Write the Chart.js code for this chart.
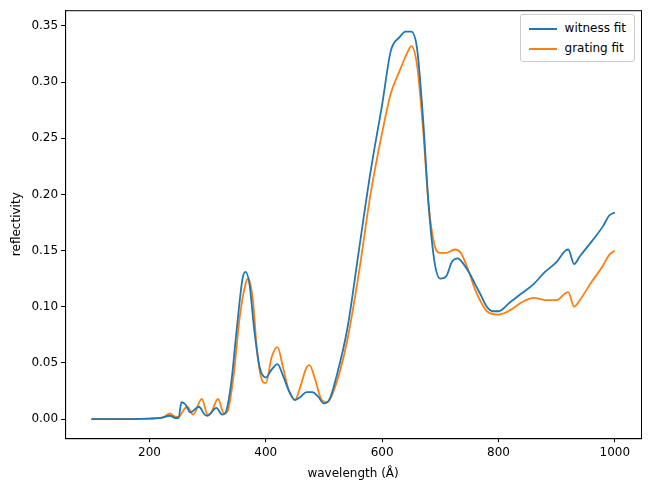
<!DOCTYPE html><html><head><meta charset="utf-8">
<script src="https://cdn.jsdelivr.net/npm/chart.js@4"></script>
<style>body{margin:0;background:#fff;font-family:"DejaVu Sans"}#w{position:relative;width:651px;height:491px}
#lg{position:absolute;right:16px;top:14px;border:1px solid #ccc;border-radius:3px;background:#fff;padding:3px 8px 3px 8px;font-size:12px;line-height:20px;color:#000}
.s{display:inline-block;width:28px;height:2px;vertical-align:middle;margin-right:8px}</style></head><body>
<div id="w"><canvas id="c" width="651" height="491"></canvas>
<div id="lg"><div><span class="s" style="background:#1f77b4"></span>witness fit</div><div><span class="s" style="background:#ff7f0e"></span>grating fit</div></div></div>
<script>
const witnessX=[100,150,200,220,235,245,250,255,262,270,285,295,300,315,325,330,340,350,360,365,372,380,390,400,410,420,430,440,450,460,470,480,490,500,510,520,540,560,580,600,615,630,640,650,660,670,680,690,700,710,720,730,740,750,760,770,780,790,800,820,840,860,880,900,915,920,930,940,960,980,990,1000];
const witnessY=[0,0,0.0005,0.001,0.003,0.001,0.001,0.015,0.013,0.006,0.011,0.004,0.003,0.010,0.004,0.005,0.03,0.08,0.125,0.131,0.12,0.08,0.045,0.037,0.044,0.049,0.038,0.025,0.017,0.02,0.024,0.024,0.02,0.014,0.018,0.035,0.08,0.15,0.22,0.28,0.328,0.34,0.345,0.345,0.33,0.27,0.19,0.14,0.125,0.127,0.14,0.143,0.138,0.13,0.12,0.11,0.1,0.096,0.096,0.104,0.112,0.12,0.131,0.14,0.15,0.151,0.138,0.145,0.158,0.172,0.181,0.184];
const gratingX=[100,200,225,235,245,250,260,265,275,290,300,305,318,328,335,345,355,365,370,378,385,395,400,410,420,430,440,450,460,470,475,485,495,505,520,540,560,580,600,615,630,645,650,660,670,680,690,700,710,725,735,750,760,770,780,800,820,840,860,880,900,915,920,930,940,960,980,990,1000];
const gratingY=[0,0.0005,0.002,0.005,0.002,0.002,0.009,0.011,0.004,0.018,0.004,0.005,0.018,0.005,0.008,0.04,0.09,0.12,0.125,0.105,0.06,0.033,0.032,0.055,0.064,0.045,0.025,0.017,0.03,0.046,0.048,0.035,0.018,0.015,0.03,0.07,0.13,0.2,0.255,0.29,0.31,0.328,0.332,0.315,0.26,0.19,0.155,0.148,0.148,0.151,0.148,0.13,0.115,0.104,0.096,0.093,0.097,0.104,0.108,0.106,0.106,0.112,0.113,0.1,0.106,0.122,0.137,0.146,0.15];
const xTicks=[200,400,600,800,1000];
const yTicks=[0,0.05,0.1,0.15,0.2,0.25,0.3,0.35];
const pts=(xs,ys)=>xs.map((x,i)=>({x,y:ys[i]}));
Chart.defaults.font.family="DejaVu Sans";Chart.defaults.color="#000";
const frame={id:'frame',afterDraw(ch){const a=ch.chartArea,c=ch.ctx;c.save();c.strokeStyle='#000';c.lineWidth=1;c.strokeRect(a.left+0.5,a.top+0.5,a.right-a.left,a.bottom-a.top);c.restore();}};
const g={display:true,drawOnChartArea:false,color:'#000',tickLength:4};
new Chart(document.getElementById('c'),{type:'line',plugins:[frame],
data:{datasets:[
{label:'witness fit',data:pts(witnessX,witnessY),borderColor:'#1f77b4',borderWidth:1.8,pointRadius:0,cubicInterpolationMode:'monotone'},
{label:'grating fit',data:pts(gratingX,gratingY),borderColor:'#ff7f0e',borderWidth:1.8,pointRadius:0,cubicInterpolationMode:'monotone'}]},
options:{responsive:false,animation:false,layout:{padding:{top:8,right:10,left:6,bottom:6}},
plugins:{legend:{display:false},tooltip:{enabled:false}},
scales:{
x:{type:'linear',min:55,max:1045,grid:g,border:{color:'#000'},
 afterBuildTicks:a=>{a.ticks=xTicks.map(v=>({value:v}))},ticks:{font:{size:12},callback:v=>v},
 title:{display:true,text:'wavelength (Å)',font:{size:12}}},
y:{min:-0.017,max:0.364,grid:g,border:{color:'#000'},
 afterBuildTicks:a=>{a.ticks=yTicks.map(v=>({value:v}))},ticks:{font:{size:12},callback:v=>v.toFixed(2)},
 title:{display:true,text:'reflectivity',font:{size:12}}}}}});
</script></body></html>
